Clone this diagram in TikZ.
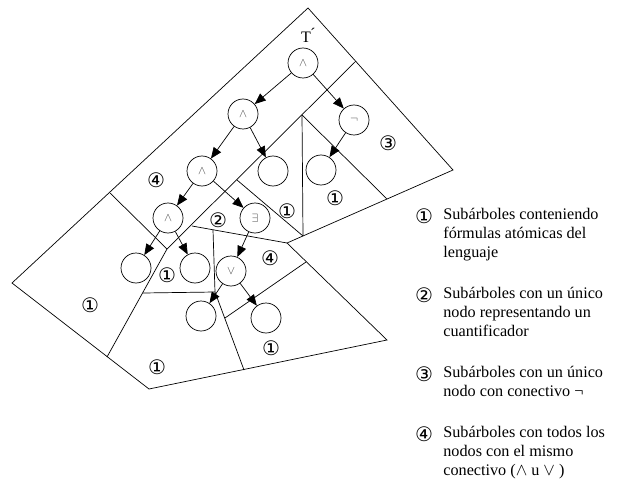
\documentclass[tikz,border=0pt]{standalone}
\usepackage{fontspec}
\setmainfont{Liberation Serif}
\newfontfamily\circfont{DejaVu Sans}
\usetikzlibrary{arrows.meta}

\begin{document}
\begin{tikzpicture}[x=1pt, y=-1pt, line width=0.7pt]
    \tikzstyle{formula}=[draw, circle, minimum size=30pt, inner sep=0pt, text=black!70, font=\fontsize{12}{12}\selectfont]
    \tikzstyle{edge}=[-{Triangle[length=11pt, width=9pt]}]
    \tikzstyle{tag}=[inner sep=0pt, font=\circfont\fontsize{20}{20}\selectfont]
    \tikzstyle{legend}=[anchor=north west, inner sep=0pt, align=left, font=\fontsize{16.2}{19}\selectfont]

    \useasboundingbox (0, 0) rectangle (620, 481);

    % Partition of T'
    \draw (308, 8) -- (453, 170) -- (287, 243) -- (387, 340) -- (149, 389) -- (12, 283) -- cycle;
    \draw (356, 61) -- (167, 249) -- (107, 357);
    \draw (302, 115) -- (303, 236);
    \draw (302, 115) -- (387, 199);
    \draw (237, 180) -- (303, 236);
    \draw (110, 193) -- (167, 249);
    \draw (192, 226) -- (287, 243);
    \draw (213, 230) -- (215, 292) -- (244, 370);
    \draw (143, 293) -- (215, 292);
    \draw (306, 262) -- (225, 318);

    % Formula tree
    \node[font=\fontsize{16}{16}\selectfont] (tname) at (308, 35) {T\'{}};
    \node[formula] (and1) at (303, 63) {$\wedge$};
    \node[formula] (and2) at (243, 114) {$\wedge$};
    \node[formula] (neg) at (354, 120) {$\neg$};
    \node[formula] (and3) at (202, 171) {$\wedge$};
    \node[formula] (atomA) at (273, 171) {};
    \node[formula] (atomB) at (321, 170) {};
    \node[formula] (and4) at (168, 218) {$\wedge$};
    \node[formula] (exists) at (255, 218) {$\exists$};
    \node[formula] (atomC) at (136, 268) {};
    \node[formula] (atomD) at (195, 268) {};
    \node[formula] (or) at (231, 271) {$\vee$};
    \node[formula] (atomE) at (201, 316) {};
    \node[formula] (atomF) at (266, 318) {};

    \draw[edge] (and1) -- (and2);
    \draw[edge] (and1) -- (neg);
    \draw[edge] (and2) -- (and3);
    \draw[edge] (and2) -- (atomA);
    \draw[edge] (neg) -- (atomB);
    \draw[edge] (and3) -- (and4);
    \draw[edge] (and3) -- (exists);
    \draw[edge] (and4) -- (atomC);
    \draw[edge] (and4) -- (atomD);
    \draw[edge] (exists) -- (or);
    \draw[edge] (or) -- (atomE);
    \draw[edge] (or) -- (atomF);

    % Region tags
    \node[tag] (t3) at (388, 143) {③};
    \node[tag] (t4a) at (156, 180) {④};
    \node[tag] (t1a) at (335, 198) {①};
    \node[tag] (t1b) at (287, 211) {①};
    \node[tag] (t2) at (218, 220) {②};
    \node[tag] (t4b) at (270, 258) {④};
    \node[tag] (t1c) at (167, 275) {①};
    \node[tag] (t1d) at (90, 305) {①};
    \node[tag] (t1e) at (271, 348) {①};
    \node[tag] (t1f) at (157, 367) {①};

    % Legend
    \node[tag] (k1) at (424, 216) {①};
    \node[legend] (l1) at (443, 208) {Subárboles conteniendo\\fórmulas atómicas del\\lenguaje};
    \node[tag] (k2) at (424, 295) {②};
    \node[legend] (l2) at (443, 287) {Subárboles con un único\\nodo representando un\\cuantificador};
    \node[tag] (k3) at (424, 374) {③};
    \node[legend] (l3) at (443, 366) {Subárboles con un único\\nodo con conectivo ¬};
    \node[tag] (k4) at (424, 434) {④};
    \node[legend] (l4) at (443, 426) {Subárboles con todos los\\nodos con el mismo\\conectivo ($\wedge$ u $\vee$ )};
\end{tikzpicture}
\end{document}
